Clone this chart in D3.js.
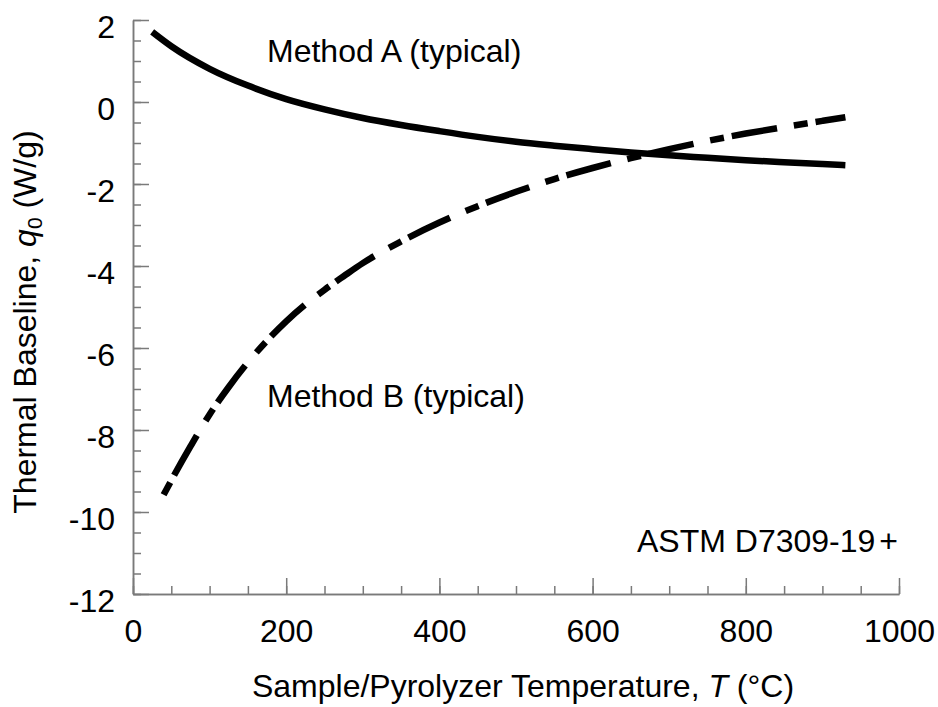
<!DOCTYPE html>
<html>
<head>
<meta charset="utf-8">
<script src="https://d3js.org/d3.v7.min.js"></script>
<style>
body { margin: 0; background: #fff; }
text { font-family: "Liberation Sans", Arial, Helvetica, sans-serif; fill: #000; }
</style>
</head>
<body>
<div id="chart-area"></div>
<script>
// baseline curves
var tempA = [25, 50, 100, 150, 200, 250, 300, 350, 400, 450, 500, 550, 600, 650, 700, 750, 800, 850, 900, 930];
var baseA = [1.71, 1.36, 0.81, 0.40, 0.07, -0.18, -0.39, -0.56, -0.71, -0.85, -0.97, -1.065, -1.15, -1.23, -1.30, -1.36, -1.42, -1.47, -1.515, -1.54];

var tempB = [40, 50, 75, 100, 125, 150, 175, 200, 225, 250, 275, 300, 350, 400, 450, 500, 550, 600, 650, 700, 750, 800, 850, 900, 930];
var baseB = [-9.58, -9.23, -8.40, -7.62, -6.95, -6.35, -5.82, -5.35, -4.94, -4.58, -4.25, -3.93, -3.40, -2.94, -2.54, -2.19, -1.88, -1.61, -1.37, -1.15, -0.95, -0.77, -0.61, -0.46, -0.37];

var xTicks = [0, 200, 400, 600, 800, 1000];
var yTicks = [-12, -10, -8, -6, -4, -2, 0, 2];

var width = 938;
var height = 707;
var margin = {top: 20, right: 39, bottom: 113, left: 133};
var chartWidth = width - margin.left - margin.right;
var chartHeight = height - margin.top - margin.bottom;

var svg = d3.select("#chart-area").append("svg").attr("width", width).attr("height", height);
var graph = svg.append("g").attr("transform", "translate(" + margin.left + ", " + margin.top + ")");

var x = d3.scaleLinear().domain([0, 1000]).range([0, chartWidth]);
var y = d3.scaleLinear().domain([-12, 2]).range([chartHeight, 0]);

var axisColor = "#7a7a7a";
var plain = (d) => { return String(d).replace("\u2212", "-"); };

// minor ticks first, then the major axes on top
var xMinor = graph.append("g").attr("transform", "translate(0, " + chartHeight + ")")
    .call(d3.axisBottom(x).tickValues(d3.range(0, 1001, 50)).tickSize(-8).tickSizeOuter(0).tickFormat(""));
var yMinor = graph.append("g")
    .call(d3.axisLeft(y).tickValues(d3.range(-12, 2.01, 0.5)).tickSize(-8).tickSizeOuter(0).tickFormat(""));

var xAxisGroup = graph.append("g").attr("class", "x axis").attr("transform", "translate(0, " + chartHeight + ")")
    .call(d3.axisBottom(x).tickValues(xTicks).tickSize(-16).tickSizeOuter(0).tickPadding(25).tickFormat(plain));
var yAxisGroup = graph.append("g").attr("class", "y axis")
    .call(d3.axisLeft(y).tickValues(yTicks).tickSize(-16).tickSizeOuter(0).tickPadding(18).tickFormat(plain));

[xMinor, yMinor, xAxisGroup, yAxisGroup].forEach((g) => {
    g.selectAll("path, line").attr("stroke", axisColor).attr("stroke-width", 1.5);
});

xAxisGroup.selectAll("text").attr("font-size", "32px").attr("fill", "#000");
yAxisGroup.selectAll("text").attr("font-size", "32px").attr("fill", "#000").attr("dy", "0.55em");

// curves
var line = d3.line()
    .x((d) => { return x(d[0]); })
    .y((d) => { return y(d[1]); })
    .curve(d3.curveMonotoneX);

var dataA = tempA.map((t, i) => { return [t, baseA[i]]; });
var dataB = tempB.map((t, i) => { return [t, baseB[i]]; });

graph.append("path").datum(dataA)
    .attr("d", line)
    .attr("fill", "none").attr("stroke", "#000").attr("stroke-width", 6.5);

graph.append("path").datum(dataB)
    .attr("d", line)
    .attr("fill", "none").attr("stroke", "#000").attr("stroke-width", 6.5)
    .attr("stroke-dasharray", "14,8,46,17");

// labels
svg.append("text").attr("x", 267).attr("y", 62).attr("font-size", "32px").text("Method A (typical)");
svg.append("text").attr("x", 267).attr("y", 407).attr("font-size", "32px").text("Method B (typical)");

var astm = svg.append("text").attr("x", 898).attr("y", 552).attr("font-size", "32px").attr("text-anchor", "end");
astm.append("tspan").text("ASTM D7309-19");
astm.append("tspan").attr("dx", 4).text("+");

var xLabel = svg.append("text").attr("x", 523).attr("y", 697).attr("font-size", "32px").attr("text-anchor", "middle");
xLabel.append("tspan").text("Sample/Pyrolyzer Temperature, ");
xLabel.append("tspan").attr("font-style", "italic").text("T");
xLabel.append("tspan").text(" (°C)");

var yLabel = svg.append("text").attr("font-size", "32px").attr("text-anchor", "middle")
    .attr("transform", "translate(36, 322) rotate(-90)");
yLabel.append("tspan").text("Thermal Baseline, ");
yLabel.append("tspan").attr("font-style", "italic").text("q");
yLabel.append("tspan").attr("font-size", "21px").attr("dy", "0.3em").text("0");
yLabel.append("tspan").attr("dy", "-0.2em").text(" (W/g)");
</script>
</body>
</html>
